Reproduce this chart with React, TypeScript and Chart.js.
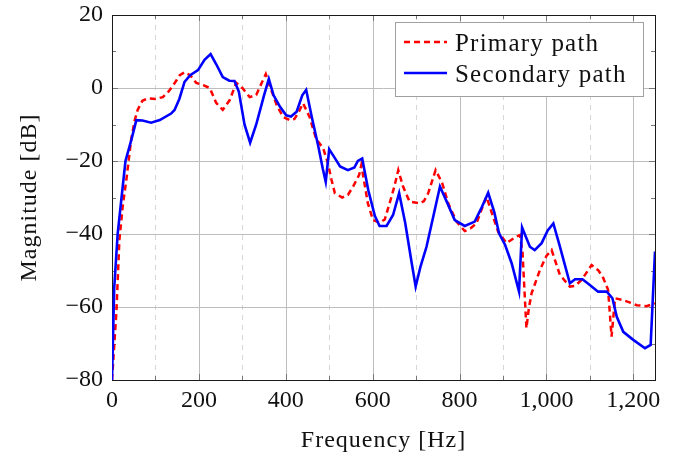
import React, { useEffect, useRef } from 'react';
import { Chart, registerables } from 'chart.js';

Chart.register(...registerables);

const seriesNames = ['Primary path', 'Secondary path'];

const primaryFreq = [0, 10, 17, 25, 33, 44, 52, 59, 70, 83, 100, 117, 130, 144, 156, 167, 180, 194, 210, 225, 240, 255, 271, 286, 300, 317, 332, 345, 354, 365, 380, 395, 409, 420, 430, 440, 455, 470, 486, 497, 505, 513, 530, 543, 555, 569, 574, 589, 601, 616, 628, 639, 650, 659, 670, 685, 708, 718, 728, 745, 760, 774, 793, 812, 825, 839, 850, 862, 875, 889, 908, 931, 939, 945, 954, 960, 966, 985, 1000, 1012, 1031, 1054, 1066, 1081, 1104, 1120, 1131, 1142, 1150, 1158, 1177, 1208, 1230, 1250];
const primaryMag = [-80, -61.6, -41.6, -32, -25.2, -14.2, -9, -6, -3.5, -2.8, -3, -2.5, -1, 1.3, 3.5, 4.3, 3.5, 1.4, 0.8, 0, -4.1, -6, -3.3, 1.4, 0, -2.5, -1.9, 1.5, 3.8, 0, -5, -8, -8.8, -8.5, -6.5, -4.2, -8, -14, -16.5, -20.6, -25, -28.8, -30, -29.3, -27, -23.8, -21.1, -31.6, -36.2, -36.9, -36, -31.6, -27, -22.5, -27, -31.1, -31.6, -31, -28.8, -22.5, -26, -31.6, -36.6, -39.2, -38.5, -37.1, -33.5, -29.8, -34.5, -39.4, -42.5, -40.7, -40.3, -45, -65.8, -60, -56.2, -49.9, -46, -44.4, -51.2, -54.4, -54.2, -52.6, -48.5, -50, -52.1, -55.3, -68.1, -57.6, -58.1, -59.5, -59.8, -59];

const secondaryFreq = [0, 5, 13, 22, 31, 45, 56, 70, 90, 110, 136, 144, 155, 167, 180, 198, 213, 227, 240, 255, 270, 282, 292, 305, 318, 332, 350, 361, 372, 386, 401, 412, 425, 438, 447, 460, 475, 485, 492, 500, 512, 525, 543, 558, 566, 576, 590, 605, 616, 632, 647, 661, 675, 690, 699, 710, 724, 740, 755, 770, 789, 812, 835, 850, 866, 880, 891, 905, 920, 937, 944, 962, 973, 989, 1003, 1016, 1030, 1054, 1066, 1083, 1100, 1119, 1139, 1152, 1162, 1177, 1200, 1227, 1240, 1250];
const secondaryMag = [-80, -55, -40, -30, -20, -14, -8.8, -8.9, -9.5, -8.8, -7, -6, -3, 1.7, 3.5, 4.9, 7.7, 9.3, 6.5, 3, 2, 1.9, -1, -10, -15, -10, -2, 2.5, -2, -5, -7.5, -7.8, -6.5, -2, -0.5, -8, -16, -22, -25.7, -16.8, -19, -21.5, -22.5, -21.8, -20, -19.3, -28, -35, -37.8, -37.8, -34.8, -28.8, -37, -48, -54.4, -49, -43.5, -35, -27, -31, -36.2, -37.8, -36.6, -33, -28.7, -34, -39.8, -43, -48, -55.8, -38.2, -43.5, -44.4, -42.5, -39, -37.1, -43, -53.5, -52.4, -52.4, -54, -55.8, -55.8, -57.6, -62.7, -66.8, -69, -71.3, -70.4, -44.8];

const xTickValues = [0, 200, 400, 600, 800, 1000, 1200];
const yTickValues = [-80, -60, -40, -20, 0, 20];
const xMinorTicks = [100, 300, 500, 700, 900, 1100];
const yMinorTicks = [-70, -50, -30, -10, 10];

const FONT = '"Liberation Serif", "Times New Roman", serif';

const fmtNum = (v: number) => {
  const s = Math.abs(v).toLocaleString('en-US');
  return v < 0 ? '\u2212' + s : s;
};

const pgfPlugin = {
  id: 'pgfDecor',
  beforeDatasetsDraw(chart: any) {
    const { ctx, chartArea: a, scales } = chart;
    const x = scales.x;
    const y = scales.y;
    ctx.save();
    ctx.lineWidth = 1;
    const allX = [...xTickValues, ...xMinorTicks];
    allX.forEach((v) => {
      if (v <= 0 || v >= 1250) return;
      const px = Math.round(x.getPixelForValue(v)) + 0.5;
      const major = v % 200 === 0;
      ctx.strokeStyle = major ? '#bdbdbd' : '#d6d6d6';
      ctx.setLineDash(major ? [] : [5, 5]);
      ctx.beginPath();
      ctx.moveTo(px, a.top);
      ctx.lineTo(px, a.bottom);
      ctx.stroke();
    });
    ctx.setLineDash([]);
    yTickValues.forEach((v) => {
      if (v <= -80 || v >= 20) return;
      const py = Math.round(y.getPixelForValue(v)) + 0.5;
      ctx.strokeStyle = '#bdbdbd';
      ctx.beginPath();
      ctx.moveTo(a.left, py);
      ctx.lineTo(a.right, py);
      ctx.stroke();
    });
    ctx.strokeStyle = '#777';
    const tickX = (v: number, len: number) => {
      const px = Math.round(x.getPixelForValue(v)) + 0.5;
      ctx.beginPath();
      ctx.moveTo(px, a.bottom);
      ctx.lineTo(px, a.bottom - len);
      ctx.moveTo(px, a.top);
      ctx.lineTo(px, a.top + len);
      ctx.stroke();
    };
    const tickY = (v: number, len: number) => {
      const py = Math.round(y.getPixelForValue(v)) + 0.5;
      ctx.beginPath();
      ctx.moveTo(a.left, py);
      ctx.lineTo(a.left + len, py);
      ctx.moveTo(a.right, py);
      ctx.lineTo(a.right - len, py);
      ctx.stroke();
    };
    xTickValues.forEach((v) => tickX(v, 6));
    xMinorTicks.forEach((v) => tickX(v, 4));
    yTickValues.forEach((v) => tickY(v, 6));
    yMinorTicks.forEach((v) => tickY(v, 4));
    ctx.strokeStyle = '#1a1a1a';
    ctx.lineWidth = 1;
    ctx.strokeRect(Math.round(a.left) + 0.5, Math.round(a.top) + 0.5, Math.round(a.right - a.left), Math.round(a.bottom - a.top));
    ctx.restore();
  },
  afterDraw(chart: any) {
    const { ctx, chartArea: a } = chart;
    ctx.save();
    ctx.fillStyle = '#111';
    ctx.font = `24px ${FONT}`;
    (ctx as any).letterSpacing = '1px';
    ctx.textAlign = 'center';
    ctx.textBaseline = 'middle';
    ctx.fillText('Frequency [Hz]', (a.left + a.right) / 2, 441);
    ctx.translate(30, (a.top + a.bottom) / 2);
    ctx.rotate(-Math.PI / 2);
    ctx.fillText('Magnitude [dB]', 0, 0);
    ctx.restore();

    ctx.save();
    const ds = chart.data.datasets;
    ctx.fillStyle = '#ffffff';
    ctx.fillRect(395, 22, 248, 74);
    ctx.strokeStyle = '#a0a0a0';
    ctx.lineWidth = 1;
    ctx.strokeRect(395.5, 22.5, 248, 74);
    const rows = [42, 73];
    const baselines = [51, 82];
    ds.forEach((d: any, i: number) => {
      ctx.strokeStyle = d.borderColor;
      ctx.lineWidth = d.borderWidth;
      ctx.setLineDash(d.borderDash || []);
      ctx.beginPath();
      ctx.moveTo(404, rows[i]);
      ctx.lineTo(447, rows[i]);
      ctx.stroke();
      ctx.setLineDash([]);
      ctx.fillStyle = '#111';
      ctx.font = `25px ${FONT}`;
      (ctx as any).letterSpacing = '1.2px';
      ctx.textAlign = 'left';
      ctx.textBaseline = 'alphabetic';
      ctx.fillText(d.label, 455, baselines[i]);
    });
    ctx.restore();
  },
};

export default function App() {
  const ref = useRef<HTMLCanvasElement | null>(null);
  useEffect(() => {
    if (!ref.current) return;
    const chart = new Chart(ref.current, {
      type: 'line',
      data: {
        datasets: [
          {
            label: seriesNames[0],
            data: primaryFreq.map((f, i) => ({ x: f, y: primaryMag[i] })),
            borderColor: '#ff0000',
            borderWidth: 2.5,
            borderDash: [6, 4],
            pointRadius: 0,
            fill: false,
            tension: 0,
            order: 2,
          },
          {
            label: seriesNames[1],
            data: secondaryFreq.map((f, i) => ({ x: f, y: secondaryMag[i] })),
            borderColor: '#0000ff',
            borderWidth: 2.6,
            pointRadius: 0,
            fill: false,
            tension: 0,
            order: 1,
          },
        ],
      },
      options: {
        responsive: false,
        animation: false,
        layout: { padding: { left: 0, top: 15, right: 32, bottom: 0 } },
        plugins: { legend: { display: false }, tooltip: { enabled: false } },
        scales: {
          x: {
            type: 'linear',
            min: 0,
            max: 1250,
            grid: { display: false, drawTicks: false },
            border: { display: false },
            afterBuildTicks: (axis: any) => {
              axis.ticks = xTickValues.map((v) => ({ value: v }));
            },
            afterFit: (axis: any) => {
              axis.height = 79;
              axis.paddingLeft = 0;
              axis.paddingRight = 0;
            },
            ticks: {
              padding: 6,
              maxRotation: 0,
              autoSkip: false,
              color: '#111',
              font: { family: FONT, size: 24 },
              callback: (v: any) => fmtNum(Number(v)),
            },
          },
          y: {
            type: 'linear',
            min: -80,
            max: 20,
            grid: { display: false, drawTicks: false },
            border: { display: false },
            afterBuildTicks: (axis: any) => {
              axis.ticks = yTickValues.map((v) => ({ value: v }));
            },
            afterFit: (axis: any) => {
              axis.width = 112;
              axis.paddingTop = 0;
              axis.paddingBottom = 0;
            },
            ticks: {
              padding: 9,
              autoSkip: false,
              color: '#111',
              font: { family: FONT, size: 24 },
              callback: (v: any) => fmtNum(Number(v)),
            },
          },
        },
      },
      plugins: [pgfPlugin],
    } as any);
    return () => chart.destroy();
  }, []);
  return (
    <div style={{ position: 'fixed', left: 0, top: 0, width: 687, height: 459, background: '#fff' }}>
      <canvas ref={ref} width={687} height={459} />
    </div>
  );
}
